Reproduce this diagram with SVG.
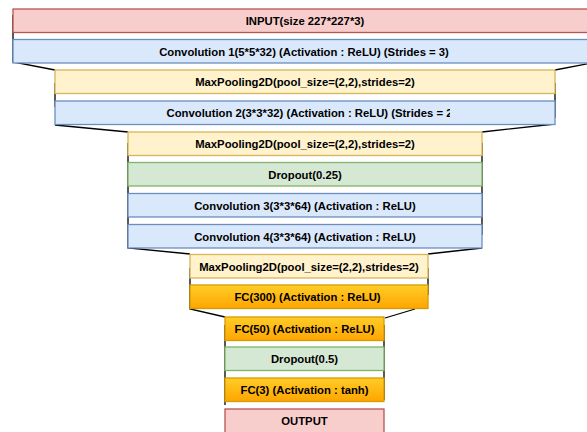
<svg xmlns="http://www.w3.org/2000/svg" width="587" height="432" viewBox="0 0 587 432">
<defs>
<linearGradient id="gOrange" x1="0" y1="0" x2="0" y2="1">
<stop offset="0" stop-color="#ffcd28"/>
<stop offset="1" stop-color="#ffa500"/>
</linearGradient>
<clipPath id="clipConv2"><rect x="55" y="101" width="395" height="24"/></clipPath>
</defs>
<style>
rect{stroke-width:1.3}
.io{fill:#f8cecc;stroke:#b85450}
.conv{fill:#dae8fc;stroke:#6c8ebf}
.pool{fill:#fff2cc;stroke:#d6b656}
.drop{fill:#d5e8d4;stroke:#82b366}
.fc{fill:url(#gOrange);stroke:#d79b00}
text{font-family:"Liberation Sans",Arial,sans-serif;font-weight:bold;font-size:11.3px;fill:#000;text-anchor:middle}
.ln{stroke:#000;stroke-width:1.3;fill:none}
</style>
<rect width="587" height="432" fill="#fff"/>
<g id="connectors">
<path class="ln" d="M13,15V62L55,70M597,62L555,70M55,83V107M555,83V118M55,125L128,132M555,124L482,132M128,143V248L190,254M482,143V235M482,248L428,254M190,268V309L225,317M428,268V295M415,309L385,318M225,325V405M384,325V400"/>
</g>
<g id="input"><rect class="io" x="13" y="9" width="590" height="23.5"/><text x="305" y="25">INPUT(size 227*227*3)</text></g>
<g id="conv1"><rect class="conv" x="13" y="39.5" width="590" height="23.5"/><text x="304" y="55.5">Convolution 1(5*5*32) (Activation : ReLU) (Strides = 3)</text></g>
<g id="maxpool1"><rect class="pool" x="55" y="70" width="500" height="23.5"/><text x="305" y="86">MaxPooling2D(pool_size=(2,2),strides=2)</text></g>
<g id="conv2"><rect class="conv" x="55" y="101" width="500" height="23.5"/><text x="166.5" y="117" style="text-anchor:start" clip-path="url(#clipConv2)">Convolution 2(3*3*32) (Activation : ReLU) (Strides = 2</text></g>
<g id="maxpool2"><rect class="pool" x="128" y="132" width="354" height="23.5"/><text x="305" y="148">MaxPooling2D(pool_size=(2,2),strides=2)</text></g>
<g id="dropout1"><rect class="drop" x="128" y="162.5" width="354" height="23.5"/><text x="305" y="178.5">Dropout(0.25)</text></g>
<g id="conv3"><rect class="conv" x="128" y="193.5" width="354" height="23.5"/><text x="305" y="209.5">Convolution 3(3*3*64) (Activation : ReLU)</text></g>
<g id="conv4"><rect class="conv" x="128" y="224.5" width="354" height="23.5"/><text x="305" y="240.5">Convolution 4(3*3*64) (Activation : ReLU)</text></g>
<g id="maxpool3"><rect class="pool" x="190" y="254.5" width="238" height="23.5"/><text x="309" y="270.5">MaxPooling2D(pool_size=(2,2),strides=2)</text></g>
<g id="fc300"><rect class="fc" x="190" y="285" width="238" height="23.5"/><text x="307.5" y="301">FC(300) (Activation : ReLU)</text></g>
<g id="fc50"><rect class="fc" x="225" y="317" width="159" height="23.5"/><text x="304.5" y="333">FC(50) (Activation : ReLU)</text></g>
<g id="dropout2"><rect class="drop" x="225" y="347" width="159" height="23.5"/><text x="304.5" y="363">Dropout(0.5)</text></g>
<g id="fc3"><rect class="fc" x="225" y="378" width="159" height="23.5"/><text x="304.5" y="394">FC(3) (Activation : tanh)</text></g>
<g id="output"><rect class="io" x="225" y="409" width="159" height="30"/><text x="304.5" y="425">OUTPUT</text></g>
</svg>
